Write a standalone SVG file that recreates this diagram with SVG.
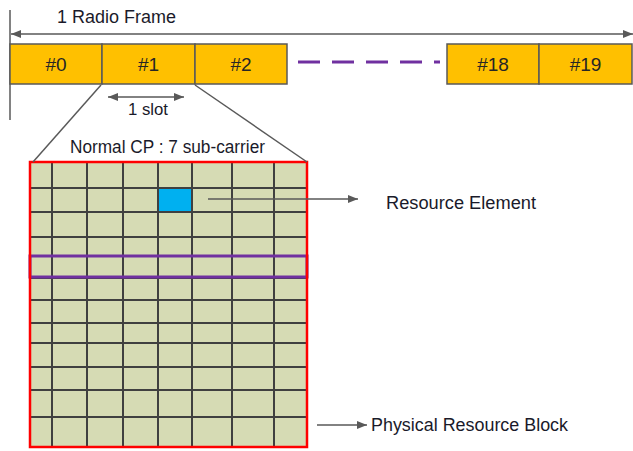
<svg xmlns="http://www.w3.org/2000/svg" width="633" height="451" viewBox="0 0 633 451">
<defs>
<marker id="ah" markerWidth="10" markerHeight="8" refX="10" refY="4" orient="auto-start-reverse" markerUnits="userSpaceOnUse">
<path d="M0,0 L10,4 L0,8 Z" fill="#595959"/>
</marker>
<style>
.t{font-family:"Liberation Sans",Arial,sans-serif;fill:#1a1a2a;font-size:17.5px}
.slot{fill:#FFC000;stroke:#595959;stroke-width:1.5}
.sl{font-family:"Liberation Sans",Arial,sans-serif;fill:#262626;font-size:19px;text-anchor:middle}
.ln{stroke:#595959;stroke-width:1.5;fill:none}
.g{stroke:#404040;stroke-width:2;fill:none}
</style>
</defs>
<rect width="633" height="451" fill="#fff"/>
<g id="frame">
<line x1="10" y1="10" x2="10" y2="120" class="ln"/>
<text class="t" x="57" y="23" textLength="119" lengthAdjust="spacingAndGlyphs">1 Radio Frame</text>
</g>
<g id="slots">
<g id="s0"><rect class="slot" x="10" y="44" width="92" height="40"/><text class="sl" x="56" y="71">#0</text></g>
<g id="s1"><rect class="slot" x="102" y="44" width="93" height="40"/><text class="sl" x="148.5" y="71">#1</text></g>
<g id="s2"><rect class="slot" x="195" y="44" width="92" height="40"/><text class="sl" x="241" y="71">#2</text></g>
<g id="s18"><rect class="slot" x="447" y="44" width="92" height="40"/><text class="sl" x="493" y="71">#18</text></g>
<g id="s19"><rect class="slot" x="539" y="44" width="93" height="40"/><text class="sl" x="585.5" y="71">#19</text></g>
</g>
<g id="slotlabel"><text class="t" x="128" y="115" style="font-size:16px" textLength="40" lengthAdjust="spacingAndGlyphs">1 slot</text></g>
<g id="grid">
<rect x="30" y="162" width="277" height="285" fill="#D6DBB4"/>
<rect x="158" y="188" width="34" height="24" fill="#00B0F0"/>
<path class="g" d="M52,162V447M87,162V447M123,162V447M158,162V447M192,162V447M232,162V447M274,162V447
M30,188H307M30,212H307M30,237H307M30,256H307M30,278H307M30,300H307M30,323H307M30,343H307M30,367H307M30,390H307M30,417H307"/>
<rect x="158" y="188" width="34" height="24" fill="none" stroke="#404040" stroke-width="2"/>
<rect x="30" y="256" width="277" height="21" fill="none" stroke="#7030A0" stroke-width="3"/>
<rect x="30" y="162" width="277" height="285" fill="none" stroke="#FF0000" stroke-width="2.5"/>
<text class="t" x="70" y="153" textLength="195" lengthAdjust="spacingAndGlyphs">Normal CP : 7 sub-carrier</text>
</g>
<g id="re"><text class="t" x="386" y="209" textLength="150" lengthAdjust="spacingAndGlyphs">Resource Element</text></g>
<g id="prb"><text class="t" x="371" y="431" textLength="197" lengthAdjust="spacingAndGlyphs">Physical Resource Block</text></g>
<g id="connectors">
<line x1="11" y1="34" x2="633" y2="34" class="ln" marker-start="url(#ah)" marker-end="url(#ah)"/>
<line x1="298" y1="62" x2="440" y2="62" stroke="#7030A0" stroke-width="3" stroke-dasharray="22 12"/>
<line x1="108" y1="97" x2="184" y2="97" class="ln" marker-start="url(#ah)" marker-end="url(#ah)"/>
<line x1="101" y1="85" x2="33" y2="162" class="ln"/>
<line x1="195" y1="85" x2="307" y2="162" class="ln"/>
<line x1="208" y1="199" x2="358" y2="199" class="ln" marker-end="url(#ah)"/>
<line x1="317" y1="425" x2="367" y2="425" class="ln" marker-end="url(#ah)"/>
</g>
</svg>
